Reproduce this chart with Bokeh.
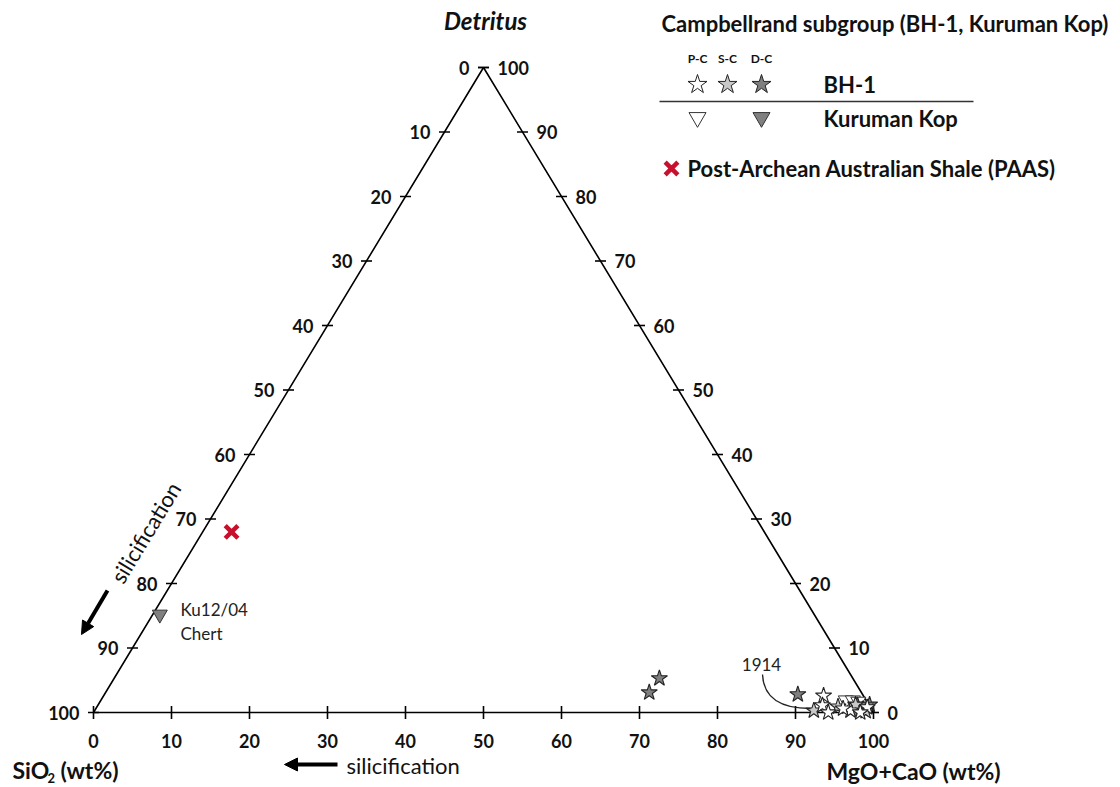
from bokeh.plotting import figure
from bokeh.models import Range1d, Label, Arrow, NormalHead
from bokeh.embed import file_html
from bokeh.resources import INLINE

# ---------------- data (MgO+CaO wt%, Detritus wt%; SiO2 = 100 - both) ----------------
bh1_pc_carb = [92.3, 92.9, 94.2, 96.9, 98.8, 95.8, 98.3]
bh1_pc_detr = [2.6, 1.1, 0.0, 0.3, 0.8, 0.6, 0.0]
bh1_sc_carb = [92.2, 95.0, 97.1, 98.9]
bh1_sc_detr = [0.3, 0.9, 1.2, 0.2]
bh1_dc_carb = [69.7, 69.9, 88.9, 97.4, 98.4, 98.9]
bh1_dc_detr = [3.1, 5.3, 2.8, 1.1, 0.5, 1.2]
kk_pc_carb = [95.5, 96.4, 97.2]
kk_pc_detr = [1.9, 1.9, 1.7]
kk_dc_carb = [0.9, 97.3, 98.6]
kk_dc_detr = [15.2, 0.8, 0.9]
paas_carb = [3.7]
paas_detr = [28.0]
ticks = [0, 10, 20, 30, 40, 50, 60, 70, 80, 90, 100]

# ---------------- layout ----------------
W, H = 1120, 787
X0, Y0 = 93.0, 712.0      # pixel of the SiO2 corner
SX, SY = 7.8, 6.45        # pixels per ternary unit
FONT = "Lato"
INK = "#111111"


def px(x, y):
    """pixel position -> ternary-cartesian data units"""
    return ((x - X0) / SX, (Y0 - y) / SY)


def tern(carb, detr):
    xs = [c + d / 2.0 for c, d in zip(carb, detr)]
    ys = list(detr)
    return xs, ys


def label(xp, yp, text, size, style="normal", align="left", angle=0.0, color=INK):
    x, y = px(xp, yp)
    p.add_layout(Label(x=x, y=y, text=text, text_align=align, text_baseline="middle", angle=angle,
                       text_font=FONT, text_font_style=style, text_font_size=size, text_color=color))


p = figure(width=W, height=H, output_backend="svg", toolbar_location=None,
           x_range=Range1d(-X0 / SX, (W - X0) / SX),
           y_range=Range1d(-(H - Y0) / SY, Y0 / SY),
           min_border=0, x_axis_location=None, y_axis_location=None,
           background_fill_color="white", border_fill_color="white")
p.outline_line_color = None
p.grid.visible = False

# triangle frame
p.line([0, 100, 50, 0], [0, 0, 100, 0], line_color="black", line_width=1.6)

# ticks
tb = 6.5 / SY
th = 5.5 / SX
p.segment(x0=ticks, y0=[-tb] * 11, x1=ticks, y1=[tb] * 11, line_color="black", line_width=1.6)
p.segment(x0=[t / 2 - th for t in ticks], y0=ticks, x1=[t / 2 + th for t in ticks], y1=ticks,
          line_color="black", line_width=1.6)
p.segment(x0=[100 - t / 2 - th for t in ticks], y0=ticks, x1=[100 - t / 2 + th for t in ticks], y1=ticks,
          line_color="black", line_width=1.6)

TICK_FS = "18px"
for t in ticks:
    # bottom (MgO+CaO)
    p.add_layout(Label(x=t, y=-28 / SY, text=str(t), text_align="center", text_baseline="middle",
                       text_font=FONT, text_font_style="bold", text_font_size=TICK_FS, text_color=INK))
    # left (SiO2)
    p.add_layout(Label(x=t / 2 - 14 / SX, y=t, text=str(100 - t), text_align="right", text_baseline="middle",
                       text_font=FONT, text_font_style="bold", text_font_size=TICK_FS, text_color=INK))
    # right (Detritus)
    p.add_layout(Label(x=100 - t / 2 + 14 / SX, y=t, text=str(t), text_align="left", text_baseline="middle",
                       text_font=FONT, text_font_style="bold", text_font_size=TICK_FS, text_color=INK))

# apex / axis titles
label(485, 20, "Detritus", "24px", "bold italic", "center")
label(12, 769, "SiO", "23px", "bold")
label(47, 777, "2", "13px", "bold")
label(60, 769, "(wt%)", "23px", "bold")
label(826, 770, "MgO+CaO (wt%)", "23px", "bold")

# silicification arrows
x1, y1 = px(337, 764)
x2, y2 = px(284, 764)
p.add_layout(Arrow(x_start=x1, y_start=y1, x_end=x2, y_end=y2, line_width=4, line_color="black",
                   end=NormalHead(size=13, fill_color="black", line_color="black")))
label(346, 765, "silicification", "22px")
x1, y1 = px(107, 590)
x2, y2 = px(81, 634)
p.add_layout(Arrow(x_start=x1, y_start=y1, x_end=x2, y_end=y2, line_width=4, line_color="black",
                   end=NormalHead(size=13, fill_color="black", line_color="black")))
label(145, 532, "silicification", "22px", "normal", "center", angle=1.026)

# data points
xs, ys = tern(paas_carb, paas_detr)
p.scatter(xs, ys, marker="x", size=18, line_color="#c8102e", line_width=4.5)
xs, ys = tern(kk_pc_carb, kk_pc_detr)
p.scatter(xs, ys, marker="inverted_triangle", size=15, fill_color="white", line_color="#333333", line_width=1)
xs, ys = tern(bh1_dc_carb, bh1_dc_detr)
p.scatter(xs, ys, marker="star", size=17, fill_color="#7f7f7f", line_color="#222222", line_width=1.1)
xs, ys = tern(kk_dc_carb, kk_dc_detr)
p.scatter(xs, ys, marker="inverted_triangle", size=15, fill_color="#808080", line_color="#333333", line_width=1)
xs, ys = tern(bh1_sc_carb, bh1_sc_detr)
p.scatter(xs, ys, marker="star", size=17, fill_color="#c8c8c8", line_color="#222222", line_width=1.1)
xs, ys = tern(bh1_pc_carb, bh1_pc_detr)
p.scatter(xs, ys, marker="star", size=17, fill_color="white", line_color="#222222", line_width=1.1)

# sample annotations
label(180, 609, "Ku12/04", "17px", color="#222222")
label(180, 633, "Chert", "17px", color="#222222")
label(761, 664, "1914", "17px", "normal", "center", color="#222222")
a0 = px(762, 674)
c0 = px(763, 697)
c1 = px(780, 708)
a1 = px(810, 708)
p.bezier(x0=[a0[0]], y0=[a0[1]], x1=[a1[0]], y1=[a1[1]], cx0=[c0[0]], cy0=[c0[1]],
         cx1=[c1[0]], cy1=[c1[1]], line_color="#222222", line_width=1.3)

# ---------------- legend ----------------
label(661, 23, "Campbellrand subgroup (BH-1, Kuruman Kop)", "22px", "bold")
leg_cols = [697, 727, 761]
for cx, lab in zip(leg_cols, ["P-C", "S-C", "D-C"]):
    label(cx, 58, lab, "12px", "bold", "center")
lx = [px(c, 84)[0] for c in leg_cols]
ly = px(0, 84)[1]
p.scatter(lx, [ly] * 3, marker="star", size=20, fill_color=["white", "#c8c8c8", "#7f7f7f"],
          line_color="#222222", line_width=1)
tx = [px(697, 118)[0], px(761, 118)[0]]
ty = px(0, 117)[1]
p.scatter(tx, [ty] * 2, marker="inverted_triangle", size=17, fill_color=["white", "#808080"],
          line_color="#333333", line_width=1)
label(823, 84, "BH-1", "22px", "bold")
label(823, 118, "Kuruman Kop", "22px", "bold")
s0 = px(659, 101)
s1 = px(973, 101)
p.line([s0[0], s1[0]], [s0[1], s1[1]], line_color="#333333", line_width=1.3)
mx, my = px(671, 168)
p.scatter([mx], [my], marker="x", size=18, line_color="#c8102e", line_width=4.5)
label(687, 168, "Post-Archean Australian Shale (PAAS)", "22px", "bold")

open("out.html", "w").write(file_html(p, INLINE))
